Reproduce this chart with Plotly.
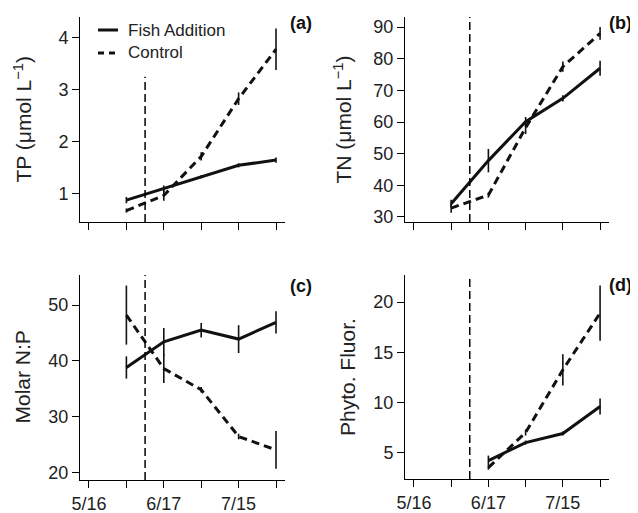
import plotly.graph_objects as go

# ---------------- data ----------------
tick_vals = [0, 1, 2, 3, 4, 5]
tick_labels = ["5/16", "", "6/17", "", "7/15", ""]
sample_idx = [1, 2, 3, 4, 5]          # sampling dates (tick index)
fish_start = 1.5                      # fish addition date (tick index)
series_names = ["Fish Addition", "Control"]

tp_fish = [0.88, 1.10, 1.33, 1.55, 1.65]
tp_fish_err = [0.06, 0.06, 0.03, 0.04, 0.05]
tp_ctrl = [0.68, 0.97, 1.72, 2.83, 3.78]
tp_ctrl_err = [0.04, 0.10, 0.08, 0.12, 0.40]

tn_fish = [34.2, 47.8, 60.1, 67.5, 77.0]
tn_fish_err = [1.2, 3.7, 1.5, 1.0, 2.4]
tn_ctrl = [32.8, 36.9, 58.2, 77.5, 88.0]
tn_ctrl_err = [1.5, 0.8, 2.0, 1.6, 2.0]

np_fish = [38.8, 43.4, 45.5, 43.9, 46.9]
np_fish_err = [2.0, 2.5, 1.3, 2.5, 2.0]
np_ctrl = [48.2, 38.6, 34.8, 26.4, 24.0]
np_ctrl_err = [5.3, 2.6, 0.5, 0.5, 3.4]

ph_idx = [2, 3, 4, 5]
ph_fish = [4.2, 6.0, 6.9, 9.6]
ph_fish_err = [0.5, 0.2, 0.2, 0.8]
ph_ctrl = [3.5, 7.0, 13.25, 18.9]
ph_ctrl_err = [0.2, 0.3, 1.55, 2.75]

y_titles = ["TP (μmol L<sup>−1</sup>)", "TN (μmol L<sup>−1</sup>)", "Molar N:P", "Phyto. Fluor."]
panel_tags = ["(a)", "(b)", "(c)", "(d)"]

# ---------------- layout geometry ----------------
# page body has an 8px default margin, so the figure is drawn 8px in from the window corner
OFF = 8
W, H = 638 - OFF, 513 - OFF
FONT = "Liberation Sans, Arial, Helvetica, sans-serif"

def fx(px):
    return (px - OFF) / W

def fy(py):
    return 1 - (py - OFF) / H

panels = [
    dict(x0=80, x1=285, y0=17, y1=222, yr=[0.46, 4.4], yt=[1, 2, 3, 4], bottom=False,
         data=(sample_idx, tp_fish, tp_fish_err, sample_idx, tp_ctrl, tp_ctrl_err), vtop=3.25,
         title_x=23, tag_x=313, tag_y=23),
    dict(x0=405, x1=609, y0=17, y1=222, yr=[28.4, 93.2], yt=[30, 40, 50, 60, 70, 80, 90], bottom=False,
         data=(sample_idx, tn_fish, tn_fish_err, sample_idx, tn_ctrl, tn_ctrl_err), vtop=None,
         title_x=343, tag_x=633, tag_y=23),
    dict(x0=80, x1=285, y0=275, y1=480, yr=[18.6, 55.4], yt=[20, 30, 40, 50], bottom=True,
         data=(sample_idx, np_fish, np_fish_err, sample_idx, np_ctrl, np_ctrl_err), vtop=None,
         title_x=22, tag_x=313, tag_y=286),
    dict(x0=405, x1=609, y0=275, y1=479, yr=[2.37, 22.7], yt=[5, 10, 15, 20], bottom=True,
         data=(ph_idx, ph_fish, ph_fish_err, ph_idx, ph_ctrl, ph_ctrl_err), vtop=None,
         title_x=347, tag_x=633, tag_y=285),
]

fig = go.Figure()
shapes = []
annotations = []
CTRL_DASH = "8px,5px"
INK = "#111"

for i, p in enumerate(panels):
    n = "" if i == 0 else str(i + 1)
    xa, ya = "x" + n, "y" + n
    xf, yf, xfe, xc, yc, yce = p["data"]
    fig.add_trace(go.Scatter(
        x=xf, y=yf, mode="lines", xaxis=xa, yaxis=ya, name=series_names[0], showlegend=False,
        line=dict(color=INK, width=3),
        error_y=dict(type="data", array=xfe, visible=True, color=INK, thickness=1.6, width=0)))
    fig.add_trace(go.Scatter(
        x=xc, y=yc, mode="lines", xaxis=xa, yaxis=ya, name=series_names[1], showlegend=False,
        line=dict(color=INK, width=3, dash=CTRL_DASH),
        error_y=dict(type="data", array=yce, visible=True, color=INK, thickness=1.6, width=0)))

    axis_common = dict(showline=True, linecolor="black", linewidth=1, ticks="outside", ticklen=7,
                       tickwidth=1, tickcolor="black", showgrid=False, zeroline=False,
                       automargin=False,
                       tickfont=dict(family=FONT, size=18, color="#222"))
    fig.update_layout(**{
        ("xaxis" + n): dict(domain=[fx(p["x0"]), fx(p["x1"])], range=[-0.24, 5.24], anchor=ya,
                            tickmode="array", tickvals=tick_vals, ticktext=tick_labels,
                            showticklabels=p["bottom"], ticklabelstandoff=0, **axis_common),
        ("yaxis" + n): dict(domain=[fy(p["y1"]), fy(p["y0"])], range=p["yr"], anchor=xa,
                            tickmode="array", tickvals=p["yt"], **axis_common),
    })

    y_top = p["vtop"] if p["vtop"] is not None else p["yr"][1]
    shapes.append(dict(type="line", xref=xa, yref=ya, x0=fish_start, x1=fish_start,
                       y0=p["yr"][0], y1=y_top, line=dict(color="#000", width=1.5, dash="8px,4px")))

    annotations.append(dict(text=y_titles[i], xref="paper", yref="paper", x=fx(p["title_x"]),
                            y=fy((p["y0"] + p["y1"]) / 2), textangle=-90, showarrow=False,
                            xanchor="center", yanchor="middle",
                            font=dict(family=FONT, size=21, color="#222")))
    annotations.append(dict(text="<b>" + panel_tags[i] + "</b>", xref="paper", yref="paper",
                            x=fx(p["tag_x"]), y=fy(p["tag_y"]), showarrow=False,
                            xanchor="right", yanchor="middle", borderpad=0,
                            font=dict(family=FONT, size=18, color="#111")))

# legend (panel a)
leg_rows = [(30, "solid"), (53, "6px,5px")]
for (ly, dsh), name in zip(leg_rows, series_names):
    shapes.append(dict(type="line", xref="paper", yref="paper", x0=fx(98), x1=fx(118),
                       y0=fy(ly), y1=fy(ly), line=dict(color=INK, width=3, dash=dsh)))
    annotations.append(dict(text=name, xref="paper", yref="paper", x=fx(126), y=fy(ly),
                            showarrow=False, xanchor="left", yanchor="middle",
                            font=dict(family=FONT, size=17, color="#222")))

fig.update_layout(width=W, height=H, margin=dict(l=0, r=0, t=0, b=0, autoexpand=False),
                  paper_bgcolor="white", plot_bgcolor="white",
                  shapes=shapes, annotations=annotations, showlegend=False)

fig.write_html("out.html")
